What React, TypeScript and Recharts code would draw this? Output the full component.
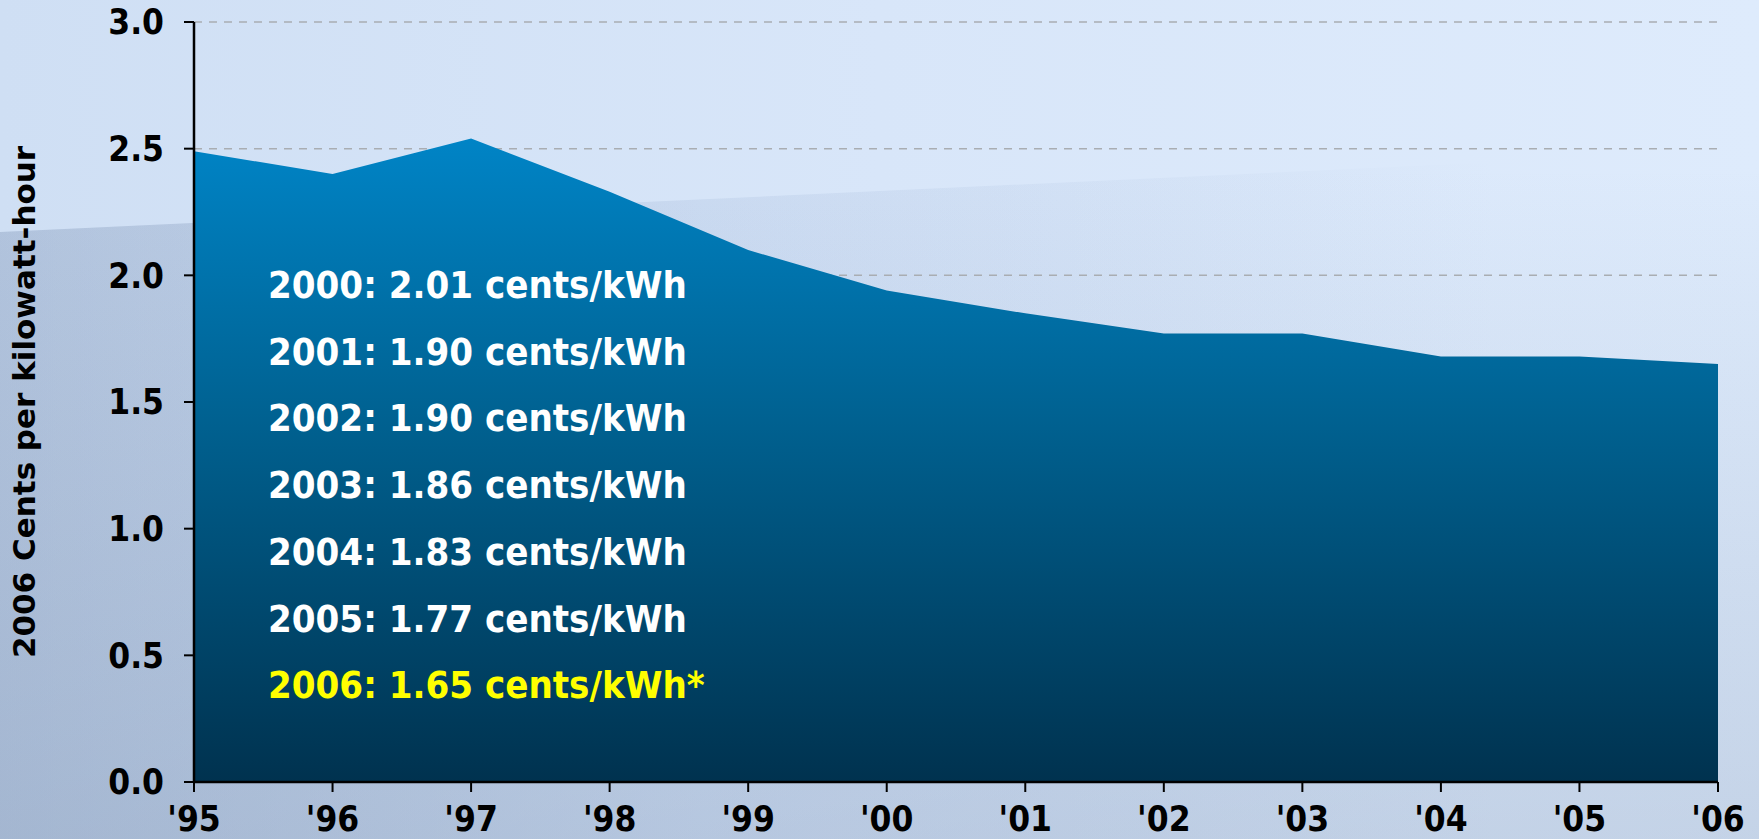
import { AreaChart, Area, XAxis, YAxis, CartesianGrid } from "recharts"

const years = ["'95", "'96", "'97", "'98", "'99", "'00", "'01", "'02", "'03", "'04", "'05", "'06"]
const costs = [2.49, 2.4, 2.54, 2.33, 2.1, 1.94, 1.85, 1.77, 1.77, 1.68, 1.68, 1.65]
const yTicks = [0, 0.5, 1, 1.5, 2, 2.5, 3]
const notes = [
  "2000: 2.01 cents/kWh",
  "2001: 1.90 cents/kWh",
  "2002: 1.90 cents/kWh",
  "2003: 1.86 cents/kWh",
  "2004: 1.83 cents/kWh",
  "2005: 1.77 cents/kWh",
  "2006: 1.65 cents/kWh*",
]

const data = years.map((year, i) => ({ year, cost: costs[i] }))

const W = 1759
const H = 839
const FONT = "'DejaVu Sans Condensed', 'DejaVu Sans', sans-serif"

const tickStyle = { fontSize: 35, fontWeight: 700, fill: "#000", fontFamily: FONT, fontStretch: "condensed" }

function YLabel(props: any) {
  const vb = props.viewBox || { x: 0, y: 0, width: 0, height: 0 }
  const cx = vb.x + 35
  const cy = vb.y + vb.height / 2
  return (
    <text
      x={cx}
      y={cy}
      transform={`rotate(-90, ${cx}, ${cy})`}
      textAnchor="middle"
      fontSize={31}
      fontWeight={700}
      fontFamily="'DejaVu Sans', sans-serif"
      fill="#000"
    >
      2006 Cents per kilowatt-hour
    </text>
  )
}

export default function App() {
  return (
    <div style={{ position: "absolute", left: 0, top: 0, width: W, height: H, overflow: "hidden",
      background: "linear-gradient(to right, #CFDFF4 0%, #D8E6F9 50%, #DEEBFC 100%)" }}>
      {/* lower darker band of the slide background */}
      <div style={{
        position: "absolute", left: 0, top: 0, width: W, height: H,
        clipPath: "polygon(0 232px, 1759px 150px, 1759px 839px, 0 839px)",
        background:
          "linear-gradient(to bottom, rgba(120,140,170,0) 20%, rgba(120,140,170,0.25) 100%), " +
          "linear-gradient(to right, rgba(150,170,200,0.5) 0%, rgba(175,195,225,0.3) 40%, rgba(222,236,252,0) 85%)",
      }} />
      <AreaChart width={W} height={H} data={data} margin={{ top: 22, right: 41, left: 0, bottom: 0 }}
        style={{ position: "absolute", left: 0, top: 0 }}>
        <defs>
          <linearGradient id="fillGrad" x1="0" y1="0" x2="0" y2="1">
            <stop offset="0%" stopColor="#0084C6" />
            <stop offset="45%" stopColor="#00608F" />
            <stop offset="100%" stopColor="#00324F" />
          </linearGradient>
        </defs>
        <CartesianGrid vertical={false} stroke="#A9ADB2" strokeWidth={1.5} strokeDasharray="8 7" />
        <XAxis
          dataKey="year"
          height={57}
          tick={tickStyle}
          tickSize={10}
          tickMargin={14}
          axisLine={{ stroke: "#000", strokeWidth: 2.5 }}
          tickLine={{ stroke: "#000", strokeWidth: 2 }}
          interval={0}
        />
        <YAxis
          width={194}
          domain={[0, 3]}
          ticks={yTicks}
          tickFormatter={(v: number) => v.toFixed(1)}
          tick={tickStyle}
          tickSize={10}
          tickMargin={20}
          axisLine={{ stroke: "#000", strokeWidth: 2.5 }}
          tickLine={{ stroke: "#000", strokeWidth: 2 }}
          label={{ content: <YLabel /> }}
        />
        <Area
          type="linear"
          dataKey="cost"
          stroke="none"
          fill="url(#fillGrad)"
          fillOpacity={1}
          dot={false}
          activeDot={false}
          isAnimationActive={false}
        />
      </AreaChart>
      <svg width={W} height={H} style={{ position: "absolute", left: 0, top: 0, pointerEvents: "none" }}>
        {notes.map((t, i) => (
          <text
            key={i}
            x={268}
            y={298 + i * 66.7}
            fontSize={38}
            fontWeight={700}
            fontFamily={FONT}
            style={{ fontStretch: "condensed" }}
            fill={i === notes.length - 1 ? "#FFFF00" : "#FFFFFF"}
          >
            {t}
          </text>
        ))}
      </svg>
    </div>
  )
}
